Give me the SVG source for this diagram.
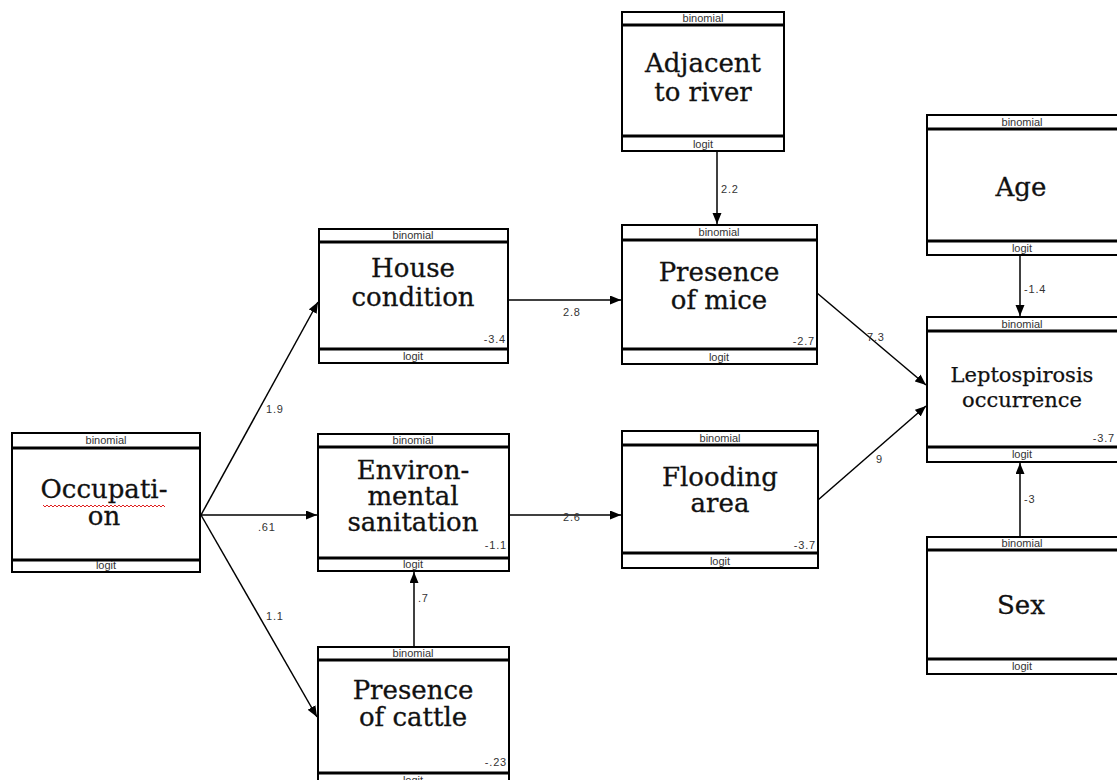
<svg xmlns="http://www.w3.org/2000/svg" width="1117" height="780" viewBox="0 0 1117 780">
<style>
.box{fill:#fff;stroke:#000;stroke-width:2}
.sep{stroke:#000;stroke-width:3}
.sm{font-family:"Liberation Sans",Arial,sans-serif;font-size:11px;fill:#333;text-anchor:middle}
.co{font-family:"Liberation Sans",Arial,sans-serif;font-size:11px;letter-spacing:0.8px;fill:#333;text-anchor:end}
.t{font-family:"DejaVu Serif","Liberation Serif",serif;font-size:26px;fill:#111;stroke:#111;stroke-width:0.3;text-anchor:middle}
.t2{font-family:"DejaVu Serif","Liberation Serif",serif;font-size:21px;fill:#111;stroke:#111;stroke-width:0.25;text-anchor:middle}
.e{stroke:#000;stroke-width:1.5;fill:none;marker-end:url(#ah)}
.lb{font-family:"Liberation Sans",Arial,sans-serif;font-size:11px;letter-spacing:0.8px;fill:#333}
</style>
<defs>
<marker id="ah" markerUnits="userSpaceOnUse" markerWidth="12" markerHeight="10" refX="11" refY="4.5" orient="auto">
<path d="M0,0 L11,4.5 L0,9 z" fill="#000"/>
</marker>
</defs>
<rect width="1117" height="780" fill="#fff"/>

<g id="adjacent">
<rect class="box" x="622" y="12" width="162" height="139"/>
<line class="sep" x1="622" y1="25" x2="784" y2="25"/>
<line class="sep" x1="622" y1="136" x2="784" y2="136"/>
<text class="sm" x="703" y="22">binomial</text>
<text class="sm" x="703" y="148">logit</text>
<text class="t" x="703" y="72">Adjacent</text>
<text class="t" x="703" y="101">to river</text>
</g>

<g id="house">
<rect class="box" x="319" y="229" width="189" height="134"/>
<line class="sep" x1="319" y1="242" x2="508" y2="242"/>
<line class="sep" x1="319" y1="349" x2="508" y2="349"/>
<text class="sm" x="413" y="239">binomial</text>
<text class="sm" x="413" y="360">logit</text>
<text class="t" x="413" y="277">House</text>
<text class="t" x="413" y="306">condition</text>
<text class="co" x="506" y="343">-3.4</text>
</g>

<g id="mice">
<rect class="box" x="622" y="225" width="195" height="139"/>
<line class="sep" x1="622" y1="240" x2="817" y2="240"/>
<line class="sep" x1="622" y1="349" x2="817" y2="349"/>
<text class="sm" x="719" y="236">binomial</text>
<text class="sm" x="719" y="361">logit</text>
<text class="t" x="719" y="281">Presence</text>
<text class="t" x="719" y="309">of mice</text>
<text class="co" x="815" y="345">-2.7</text>
</g>

<g id="occupation">
<rect class="box" x="12" y="433" width="188" height="139"/>
<line class="sep" x1="12" y1="448" x2="200" y2="448"/>
<line class="sep" x1="12" y1="560" x2="200" y2="560"/>
<text class="sm" x="106" y="444">binomial</text>
<text class="sm" x="106" y="569">logit</text>
<text class="t" x="104" y="498">Occupati-</text>
<text class="t" x="104" y="525">on</text>
<polyline points="43,505 45,507 47,505 49,507 51,505 53,507 55,505 57,507 59,505 61,507 63,505 65,507 67,505 69,507 71,505 73,507 75,505 77,507 79,505 81,507 83,505 85,507 87,505 89,507 91,505 93,507 95,505 97,507 99,505 101,507 103,505 105,507 107,505 109,507 111,505 113,507 115,505 117,507 119,505 121,507 123,505 125,507 127,505 129,507 131,505 133,507 135,505 137,507 139,505 141,507 143,505 145,507 147,505 149,507 151,505 153,507 155,505 157,507 159,505 161,507 163,505 165,507" fill="none" stroke="#e02020" stroke-width="1"/>
</g>

<g id="environmental">
<rect class="box" x="318" y="434" width="191" height="137"/>
<line class="sep" x1="318" y1="447" x2="509" y2="447"/>
<line class="sep" x1="318" y1="558" x2="509" y2="558"/>
<text class="sm" x="413" y="444">binomial</text>
<text class="sm" x="413" y="568">logit</text>
<text class="t" x="413" y="479">Environ-</text>
<text class="t" x="413" y="505">mental</text>
<text class="t" x="413" y="531">sanitation</text>
<text class="co" x="507" y="549">-1.1</text>
</g>

<g id="flooding">
<rect class="box" x="622" y="431" width="196" height="137"/>
<line class="sep" x1="622" y1="445" x2="818" y2="445"/>
<line class="sep" x1="622" y1="553" x2="818" y2="553"/>
<text class="sm" x="720" y="442">binomial</text>
<text class="sm" x="720" y="565">logit</text>
<text class="t" x="720" y="486">Flooding</text>
<text class="t" x="720" y="512">area</text>
<text class="co" x="816" y="549">-3.7</text>
</g>

<g id="cattle">
<rect class="box" x="318" y="647" width="191" height="140"/>
<line class="sep" x1="318" y1="660" x2="509" y2="660"/>
<line class="sep" x1="318" y1="773" x2="509" y2="773"/>
<text class="sm" x="413" y="657">binomial</text>
<text class="sm" x="413" y="784">logit</text>
<text class="t" x="413" y="699">Presence</text>
<text class="t" x="413" y="726">of cattle</text>
<text class="co" x="507" y="766">-.23</text>
</g>

<g id="age">
<rect class="box" x="927" y="115" width="200" height="140"/>
<line class="sep" x1="927" y1="129" x2="1127" y2="129"/>
<line class="sep" x1="927" y1="241" x2="1127" y2="241"/>
<text class="sm" x="1022" y="126">binomial</text>
<text class="sm" x="1022" y="252">logit</text>
<text class="t" x="1021" y="196">Age</text>
</g>

<g id="leptospirosis">
<rect class="box" x="927" y="317" width="200" height="145"/>
<line class="sep" x1="927" y1="331" x2="1127" y2="331"/>
<line class="sep" x1="927" y1="447" x2="1127" y2="447"/>
<text class="sm" x="1022" y="328">binomial</text>
<text class="sm" x="1022" y="458">logit</text>
<text class="t2" x="1022" y="382">Leptospirosis</text>
<text class="t2" x="1022" y="407">occurrence</text>
<text class="co" x="1115" y="442">-3.7</text>
</g>

<g id="sex">
<rect class="box" x="927" y="537" width="200" height="137"/>
<line class="sep" x1="927" y1="550" x2="1127" y2="550"/>
<line class="sep" x1="927" y1="659" x2="1127" y2="659"/>
<text class="sm" x="1022" y="547">binomial</text>
<text class="sm" x="1022" y="670">logit</text>
<text class="t" x="1021" y="614">Sex</text>
</g>

<g id="connectors">
<line class="e" x1="717" y1="151" x2="717" y2="224"/>
<text class="lb" x="721" y="193">2.2</text>
<line class="e" x1="508" y1="300" x2="621" y2="300"/>
<text class="lb" x="563" y="316">2.8</text>
<line class="e" x1="201" y1="515" x2="318" y2="302"/>
<text class="lb" x="266" y="413">1.9</text>
<line class="e" x1="201" y1="515" x2="317" y2="515"/>
<text class="lb" x="258" y="531">.61</text>
<line class="e" x1="201" y1="515" x2="317" y2="717"/>
<text class="lb" x="266" y="620">1.1</text>
<line class="e" x1="414" y1="647" x2="414" y2="572"/>
<text class="lb" x="418" y="602">.7</text>
<line class="e" x1="509" y1="515" x2="621" y2="515"/>
<text class="lb" x="563" y="521">2.6</text>
<line class="e" x1="817" y1="293" x2="926" y2="385"/>
<text class="lb" x="867" y="341">7.3</text>
<line class="e" x1="818" y1="500" x2="926" y2="406"/>
<text class="lb" x="876" y="463">9</text>
<line class="e" x1="1020" y1="255" x2="1020" y2="316"/>
<text class="lb" x="1024" y="293">-1.4</text>
<line class="e" x1="1020" y1="537" x2="1020" y2="463"/>
<text class="lb" x="1024" y="503">-3</text>
</g>
</svg>
